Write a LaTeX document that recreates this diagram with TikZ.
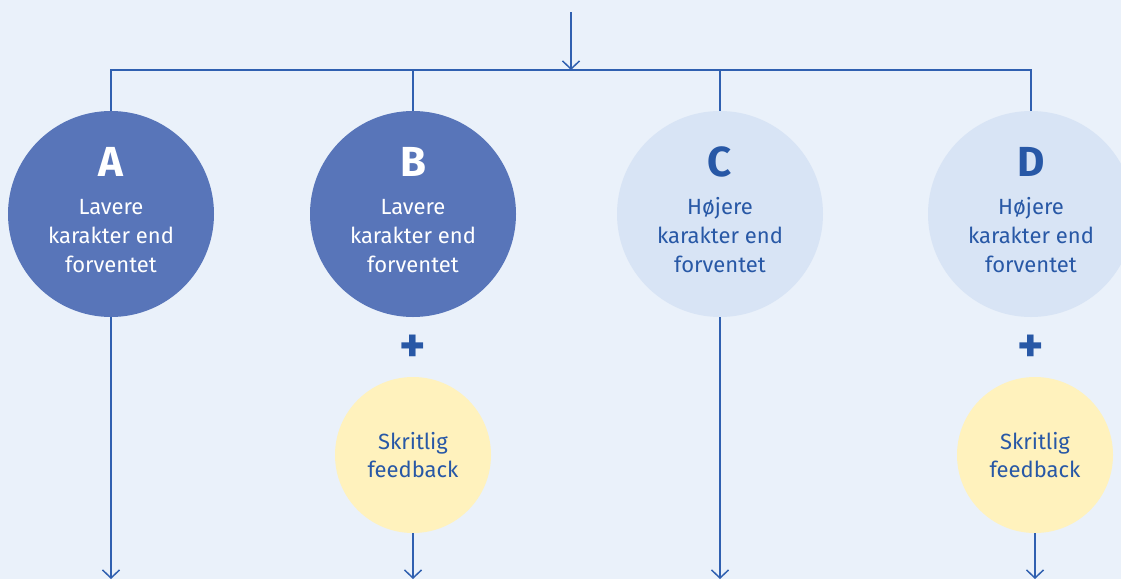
\documentclass[tikz,border=0pt]{standalone}
\usepackage{fontspec}
\setmainfont{Fira Sans}
\usetikzlibrary{arrows.meta,positioning}
\definecolor{bgblue}{RGB}{234,241,250}
\definecolor{lineblue}{RGB}{48,96,176}
\definecolor{darkcirc}{RGB}{88,117,185}
\definecolor{palecirc}{RGB}{216,228,245}
\definecolor{feedyellow}{RGB}{255,242,189}
\definecolor{textblue}{RGB}{40,88,166}
\newcommand{\grade}[1]{{\fontsize{42}{42}\selectfont\bfseries #1}\\[9pt]}
\begin{document}
\begin{tikzpicture}[x=1pt,y=-1pt,
    line/.style={draw=lineblue,line width=1.5pt},
    arr/.style={line,-{Straight Barb[length=8pt,width=17pt,line width=1.5pt]}},
    bigcirc/.style={circle,minimum size=206pt,inner sep=0pt,align=center,
      text depth=8pt,font=\fontsize{22}{29}\selectfont},
    low/.style={bigcirc,fill=darkcirc,text=white},
    high/.style={bigcirc,fill=palecirc,text=textblue},
    feed/.style={circle,minimum size=156pt,inner sep=0pt,align=center,
      fill=feedyellow,text=textblue,font=\fontsize{22}{28}\selectfont},
    plus/.style={text=textblue,font=\fontsize{50}{50}\selectfont\bfseries}]
    \fill [bgblue] (0,0) rectangle (1121,579);
    \clip (0,0) rectangle (1121,579);
    \useasboundingbox (0,0) rectangle (1121,579);
    % top arrow and bus
    \coordinate (in) at (571,12);
    \coordinate (bus) at (571,70);
    \coordinate (bottom) at (0,579);
    \draw [arr] (in) -- (bus);
    % grade circles
    \node [low] (A) at (111,214) {\grade{A}Lavere\\karakter end\\forventet};
    \node [low] (B) at (413,214) {\grade{B}Lavere\\karakter end\\forventet};
    \node [high] (C) at (720,214) {\grade{C}Højere\\karakter end\\forventet};
    \node [high] (D) at (1031,214) {\grade{D}Højere\\karakter end\\forventet};
    % feedback
    \node [plus] (plusB) at (413,349) {+};
    \node [plus] (plusD) at (1031,349) {+};
    \node [feed] (fbB) at (413,455) {Skritlig\\feedback};
    \node [feed] (fbD) at (1035,455) {Skritlig\\feedback};
    % connectors
    \draw [line] (A.north) |- (bus) -| (D.north);
    \draw [line] (B.north) -- (B.north |- bus);
    \draw [line] (C.north) -- (C.north |- bus);
    \draw [arr] (A.south) -- (A.south |- bottom);
    \draw [arr] (C.south) -- (C.south |- bottom);
    \draw [arr] (fbB.south) -- (fbB.south |- bottom);
    \draw [arr] (fbD.south) -- (fbD.south |- bottom);
\end{tikzpicture}
\end{document}
